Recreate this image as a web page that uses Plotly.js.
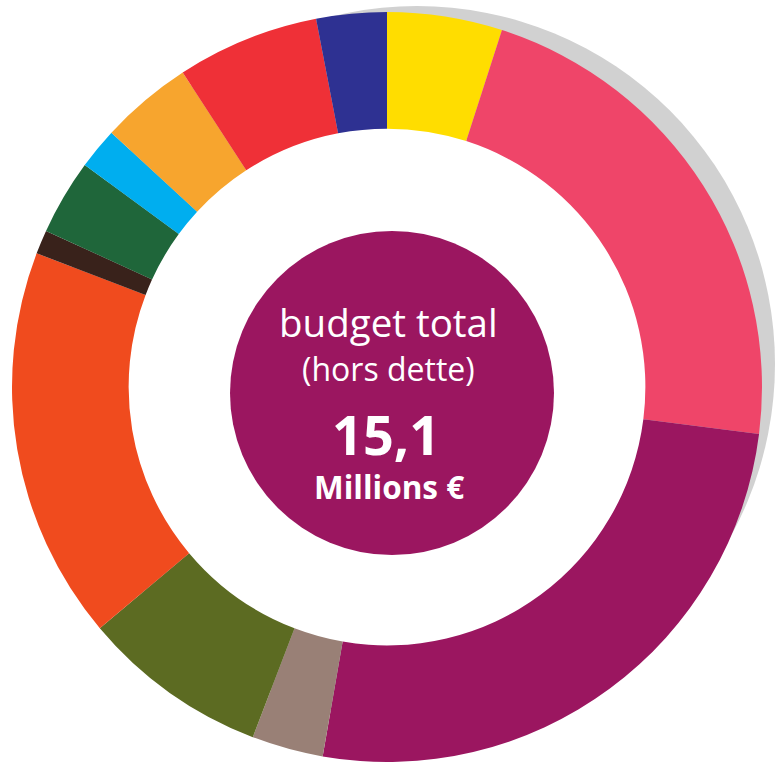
<!DOCTYPE html>
<html>
<head>
<meta charset="utf-8">
<script src="https://cdn.plot.ly/plotly-3.0.1.min.js"></script>
<style>
  html, body { margin: 0; padding: 0; background: #ffffff; }
  #chart { width: 776px; height: 763px; }
</style>
</head>
<body>
<div id="chart"></div>
<script>
// Budget shares (percent of total, read clockwise from 12 o'clock)
var categories = ["Poste 1", "Poste 2", "Poste 3", "Poste 4", "Poste 5", "Poste 6",
                  "Poste 7", "Poste 8", "Poste 9", "Poste 10", "Poste 11", "Poste 12"];
var shares = [4.96, 22.04, 25.75, 3.08, 8.06, 16.92, 1.03, 3.25, 1.78, 3.97, 6.14, 3.03];
var sliceColors = ["#FFDD00", "#EF4569", "#9B1660", "#998076", "#5C6B22", "#F04B1E",
                   "#39221B", "#1F663A", "#00AEEF", "#F7A52E", "#EF3037", "#2E3192"];
var centerLines = ["budget total", "(hors dette)", "15,1", "Millions €"];

var W = 776, H = 763;
function px(x) { return x / W; }
function py(y) { return (H - y) / H; }

// main donut geometry (pixels)
var cx = 387, cy = 387, r = 375, holeFrac = 0.689;
var ri = r * holeFrac;
// shadow circle
var sx = 417, sy = 364, sr = 358;
// centre disc
var dx = 392, dy = 393, dr = 162;

var trace = {
  type: "pie",
  labels: categories,
  values: shares,
  sort: false,
  direction: "clockwise",
  rotation: 0,
  hole: holeFrac,
  textinfo: "none",
  hoverinfo: "label+percent",
  showlegend: false,
  marker: { colors: sliceColors, line: { width: 0 } },
  domain: { x: [px(cx - r), px(cx + r)], y: [py(cy + r), py(cy - r)] }
};

var fontFam = "Open Sans, sans-serif";
var layout = {
  width: W, height: H,
  margin: { l: 0, r: 0, t: 0, b: 0 },
  paper_bgcolor: "#ffffff",
  showlegend: false,
  shapes: [
    { type: "circle", xref: "paper", yref: "paper", layer: "below",
      x0: px(sx - sr), x1: px(sx + sr), y0: py(sy + sr), y1: py(sy - sr),
      fillcolor: "#D1D1D1", line: { width: 0 } },
    { type: "circle", xref: "paper", yref: "paper", layer: "below",
      x0: px(cx - ri - 2), x1: px(cx + ri + 2), y0: py(cy + ri + 2), y1: py(cy - ri - 2),
      fillcolor: "#ffffff", line: { width: 0 } },
    { type: "circle", xref: "paper", yref: "paper", layer: "above",
      x0: px(dx - dr), x1: px(dx + dr), y0: py(dy + dr), y1: py(dy - dr),
      fillcolor: "#9B1660", line: { width: 0 } }
  ],
  annotations: [
    { text: centerLines[0], x: px(388.5), y: py(322), xref: "paper", yref: "paper",
      xanchor: "center", yanchor: "middle", showarrow: false,
      font: { family: fontFam, size: 38.5, color: "#ffffff" } },
    { text: centerLines[1], x: px(388.5), y: py(368.5), xref: "paper", yref: "paper",
      xanchor: "center", yanchor: "middle", showarrow: false,
      font: { family: fontFam, size: 32, color: "#ffffff" } },
    { text: "<b>" + centerLines[2] + "</b>", x: px(386), y: py(434), xref: "paper", yref: "paper",
      xanchor: "center", yanchor: "middle", showarrow: false,
      font: { family: fontFam, size: 54, color: "#ffffff" } },
    { text: "<b>" + centerLines[3] + "</b>", x: px(389), y: py(486.5), xref: "paper", yref: "paper",
      xanchor: "center", yanchor: "middle", showarrow: false,
      font: { family: fontFam, size: 31.5, color: "#ffffff" } }
  ]
};

Plotly.newPlot("chart", [trace], layout, { staticPlot: true, displayModeBar: false });
</script>
</body>
</html>
